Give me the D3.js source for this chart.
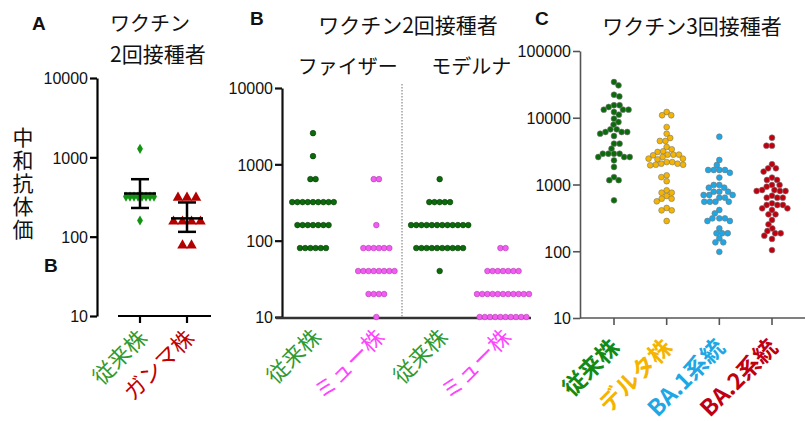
<!DOCTYPE html>
<html>
<head>
<meta charset="utf-8">
<script src="https://cdn.jsdelivr.net/npm/d3@7"></script>
<style>
  body { margin: 0; background: #fff; }
  svg { display: block; }
  .jp { font-family: "Noto Sans CJK JP", "Noto Sans", sans-serif; }
  .num { font-family: "Liberation Sans", Arial, sans-serif; }
</style>
</head>
<body>
<svg id="chart" width="805" height="421"></svg>
<script>
// ── Data ──
// Panel A: vaccinated twice, wild type vs gamma
const aCats = ['従来株', 'ガンマ株'];
const aColors = ['#129412', '#b30000'];
const aWild = [[1280, 1], [320, 8], [160, 1]];
const aGamma = [[320, 3], [160, 4], [80, 2]];
const aMean = [350, 170];
const aHigh = [530, 270];
const aLow = [230, 115];

// Panel B: vaccinated twice, [titer, count]
const bGroups = ['ファイザー', 'モデルナ'];
const bKeys = ['pfWild', 'pfMu', 'moWild', 'moMu'];
const bLabels = ['従来株', 'ミュー株', '従来株', 'ミュー株'];
const bColors = ['#0b6b0b', '#f25cf2', '#0b6b0b', '#f25cf2'];
const bPfWild = [[2560, 1], [1280, 1], [640, 2], [320, 9], [160, 7], [80, 6]];
const bPfMu = [[640, 2], [160, 1], [80, 6], [40, 8], [20, 4], [10, 1]];
const bMoWild = [[640, 1], [320, 5], [160, 12], [80, 10], [40, 1]];
const bMoMu = [[80, 2], [40, 7], [20, 11], [10, 10]];

// Panel C: vaccinated three times
const cCats = ['従来株', 'デルタ株', 'BA.1系統', 'BA.2系統'];
const cColors = ['#0b6b0b', '#f5b400', '#1ea7e6', '#c0000f'];
const cWild = [34300, 30600, 22100, 20900, 15400, 15400, 14500, 13200, 13200, 13200, 12200,
  11100, 9690, 8630, 7870, 6710, 6710, 6120, 6120, 6120, 5770, 5330, 4090, 4090, 3440,
  2890, 2890, 2890, 2890, 2580, 2580, 2580, 2300, 1830, 1290, 1160, 1160, 580];
const cDelta = [12200, 10900, 10900, 7260, 5770, 4970, 4490, 4490, 3650, 3370, 3140, 3070,
  2800, 2800, 2800, 2740, 2580, 2440, 2440, 2380, 2170, 2170, 2050, 2050, 1980, 1980, 1940,
  1370, 1290, 1120, 819, 754, 754, 672, 613, 613, 560, 445, 410, 410, 284];
const cBA1 = [5200, 2330, 1960, 1650, 1650, 1650, 1650, 1500, 1270, 984, 984, 897, 897,
  780, 780, 780, 696, 696, 696, 635, 635, 552, 552, 552, 552, 415, 370, 311, 311, 311,
  284, 284, 220, 186, 186, 186, 156, 136, 136, 98];
const cBA2 = [5020, 3810, 3810, 2010, 1750, 1750, 1560, 1270, 1170, 1170, 984, 984, 927,
  827, 827, 799, 799, 799, 679, 635, 635, 635, 523, 493, 493, 493, 439, 439, 415, 357, 357,
  294, 253, 220, 201, 186, 186, 171, 153, 104];

const svg = d3.select('#chart');

// ── helpers ──
function rowLayout(pairs, spacing) {
  const out = [];
  pairs.forEach(([v, n]) => {
    for (let i = 0; i < n; i++) out.push({ v: v, dx: (i - (n - 1) / 2) * spacing });
  });
  return out;
}

function swarm(vals, y, d) {
  const pts = vals.map(v => ({ v: v, y: y(v) })).sort((a, b) => a.y - b.y);
  const placed = [];
  pts.forEach((p, k) => {
    const cands = [0];
    placed.forEach(q => {
      const dy = p.y - q.y;
      if (Math.abs(dy) < d) {
        const dx = Math.sqrt(d * d - dy * dy);
        cands.push(q.dx + dx, q.dx - dx);
      }
    });
    const sgn = k % 2 ? 1 : -1;
    cands.sort((a, b) => (Math.abs(a) - Math.abs(b)) || (b - a) * sgn);
    for (const c of cands) {
      if (placed.every(q => (q.dx - c) ** 2 + (q.y - p.y) ** 2 >= d * d - 0.01)) { p.dx = c; break; }
    }
    placed.push(p);
  });
  return pts;
}

function yAxis(scale, x, ticks, color, width) {
  const g = svg.append('g').attr('transform', 'translate(' + x + ',0)')
    .call(d3.axisLeft(scale).tickValues(ticks).tickFormat(d3.format('d')).tickSize(7).tickSizeOuter(0));
  g.select('.domain').attr('stroke', color).attr('stroke-width', width);
  g.selectAll('.tick line').attr('stroke', color).attr('stroke-width', width);
  g.selectAll('.tick text').attr('class', 'num').style('font-size', '16px')
    .style('fill', '#111').attr('x', -9).attr('dy', '0.36em');
  return g;
}

function xLabels(scale, keys, labels, colors, dx, y0, size, weight) {
  keys.forEach((k, i) => {
    const x = scale(k);
    svg.append('text').attr('class', 'jp')
      .attr('transform', 'translate(' + (x + dx) + ',' + y0 + ') rotate(-45)')
      .attr('text-anchor', 'end').attr('dy', '0.8em')
      .style('font-size', size + 'px').style('font-weight', weight)
      .style('fill', colors[i]).text(labels[i]);
  });
}

function jpText(x, y, str, size, anchor) {
  svg.append('text').attr('class', 'jp').attr('x', x).attr('y', y)
    .attr('text-anchor', anchor || 'middle').style('font-size', size + 'px')
    .style('fill', '#111').text(str);
}

function letter(x, y, str) {
  svg.append('text').attr('class', 'num').attr('x', x).attr('y', y)
    .style('font-size', '19px').style('font-weight', 'bold').style('fill', '#111').text(str);
}

// ── Panel A ──
const yA = d3.scaleLog().domain([10, 10000]).range([316, 78]);
const xA = d3.scalePoint().domain(aCats).range([140, 187]);
yAxis(yA, 97, [10, 100, 1000, 10000], '#000', 2.2);
svg.append('line').attr('x1', 118).attr('x2', 211).attr('y1', yA(10)).attr('y2', yA(10))
  .attr('stroke', '#000').attr('stroke-width', 2.2);
aCats.forEach(c => {
  svg.append('line').attr('x1', xA(c)).attr('x2', xA(c)).attr('y1', yA(10)).attr('y2', yA(10) + 7)
    .attr('stroke', '#000').attr('stroke-width', 2.2);
});

const diamond = d3.symbol().type(d3.symbolDiamond).size(30);
const tri = d3.symbol().type(d3.symbolTriangle).size(48);
svg.append('g').selectAll('path').data(rowLayout(aWild, 4)).enter().append('path')
  .attr('d', diamond)
  .attr('transform', d => 'translate(' + (xA(aCats[0]) + d.dx) + ',' + yA(d.v) + ')')
  .attr('fill', aColors[0]);
svg.append('g').selectAll('path').data(rowLayout(aGamma, 9)).enter().append('path')
  .attr('d', tri)
  .attr('transform', d => 'translate(' + (xA(aCats[1]) + d.dx) + ',' + (yA(d.v) + 1) + ')')
  .attr('fill', aColors[1]);

aCats.forEach((c, i) => {
  const x = xA(c);
  const g = svg.append('g').attr('stroke', '#000').attr('stroke-width', 2.5);
  g.append('line').attr('x1', x).attr('x2', x).attr('y1', yA(aHigh[i])).attr('y2', yA(aLow[i]));
  g.append('line').attr('x1', x - 16).attr('x2', x + 16).attr('y1', yA(aMean[i])).attr('y2', yA(aMean[i]));
  [aHigh[i], aLow[i]].forEach(v => {
    g.append('line').attr('x1', x - 9).attr('x2', x + 9).attr('y1', yA(v)).attr('y2', yA(v));
  });
});
xLabels(xA, aCats, aCats, ['#2f9a2f', '#c00000'], -4, 327, 22, 'normal');

letter(32, 30, 'A');
jpText(110, 31, 'ワクチン', 20, 'start');
jpText(110, 62, '2回接種者', 21, 'start');
svg.append('text').attr('class', 'jp').attr('x', 23).attr('y', 127)
  .style('writing-mode', 'vertical-rl').style('letter-spacing', '2px')
  .style('font-size', '21px').style('fill', '#111').text('中和抗体価');
letter(44, 272, 'B');

// ── Panel B ──
const yB = d3.scaleLog().domain([10, 10000]).range([317, 88]);
const xB = d3.scalePoint().domain(bKeys).range([313, 503]);
yAxis(yB, 282, [10, 100, 1000, 10000], '#111', 2.2);
svg.append('line').attr('x1', 276).attr('x2', 531).attr('y1', yB(10) + 1).attr('y2', yB(10) + 1)
  .attr('stroke', '#333').attr('stroke-width', 2.6);
const divX = (xB(bKeys[1]) + xB(bKeys[2])) / 2 - 6;
svg.append('line').attr('x1', divX).attr('x2', divX).attr('y1', 84).attr('y2', yB(10))
  .attr('stroke', '#888').attr('stroke-width', 1.2).attr('stroke-dasharray', '1.5,1.5');

[bPfWild, bPfMu, bMoWild, bMoMu].forEach((series, i) => {
  svg.append('g').selectAll('circle').data(rowLayout(series, 5.2)).enter().append('circle')
    .attr('cx', d => xB(bKeys[i]) + d.dx).attr('cy', d => yB(d.v)).attr('r', 2.8)
    .attr('fill', bColors[i])
    .attr('stroke', i % 2 ? '#b03cb0' : '#0a3a0a').attr('stroke-width', 0.6);
});
xLabels(xB, bKeys, bLabels, ['#2f9a2f', '#ff44ff', '#2f9a2f', '#ff44ff'], -3, 326, 22, 'normal');

letter(250, 25, 'B');
jpText(408, 33, 'ワクチン2回接種者', 21);
jpText((xB(bKeys[0]) + xB(bKeys[1])) / 2 + 3, 74, bGroups[0], 20);
jpText((xB(bKeys[2]) + xB(bKeys[3])) / 2, 74, bGroups[1], 20);

// ── Panel C ──
const yC = d3.scaleLog().domain([10, 100000]).range([318, 51]);
const xC = d3.scalePoint().domain(cCats).range([614, 772]);
yAxis(yC, 580, [10, 100, 1000, 10000, 100000], '#555', 1.6);
svg.append('line').attr('x1', 580).attr('x2', 805).attr('y1', yC(10)).attr('y2', yC(10))
  .attr('stroke', '#555').attr('stroke-width', 1.6);
cCats.forEach(c => {
  svg.append('line').attr('x1', xC(c)).attr('x2', xC(c)).attr('y1', yC(10)).attr('y2', yC(10) + 7)
    .attr('stroke', '#555').attr('stroke-width', 1.6);
});
[cWild, cDelta, cBA1, cBA2].forEach((series, i) => {
  svg.append('g').selectAll('circle').data(swarm(series, yC, 5.6)).enter().append('circle')
    .attr('cx', d => xC(cCats[i]) + d.dx).attr('cy', d => d.y).attr('r', 2.9)
    .attr('fill', cColors[i]).attr('stroke', '#777').attr('stroke-width', 0.6);
});
xLabels(xC, cCats, cCats, ['#138a13', '#f5b400', '#1ea7e6', '#c0000f'], -6, 336, 23, 'bold');

letter(535, 25, 'C');
jpText(692, 34, 'ワクチン3回接種者', 21);
</script>
</body>
</html>
